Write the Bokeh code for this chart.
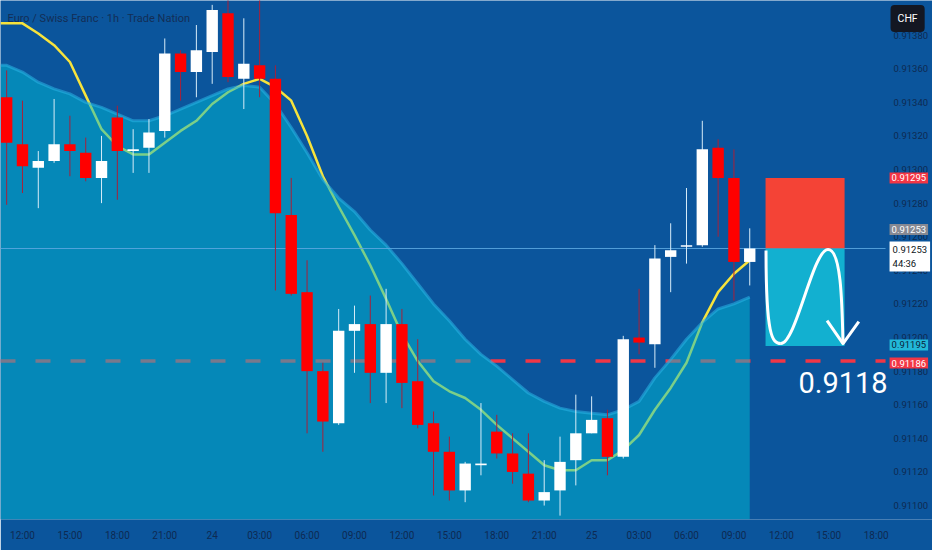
from bokeh.plotting import figure
from bokeh.models import Range1d, FixedTicker, PrintfTickFormatter, Label, ColumnDataSource
from bokeh.core.properties import value
from bokeh.embed import file_html
from bokeh.resources import INLINE

title_text = "Euro / Swiss Franc · 1h · Trade Nation"

# hour index: 0 = 12:00 on the 23rd
hours = list(range(-1, 47))
opens = [0.91343, 0.91315, 0.91301, 0.91305, 0.91315, 0.91310, 0.91295, 0.91331, 0.91311, 0.91313,
         0.91323, 0.91369, 0.91358, 0.91370, 0.91393, 0.91354, 0.91362, 0.91354, 0.91273, 0.91227,
         0.91180, 0.91149, 0.91204, 0.91208, 0.91179, 0.91208, 0.91174, 0.91149, 0.91132, 0.91109,
         0.91124, 0.91144, 0.91131, 0.91119, 0.91103, 0.91109, 0.91127, 0.91143, 0.91152, 0.91129,
         0.91200, 0.91196, 0.91248, 0.91254, 0.91255, 0.91313, 0.91295, 0.91245]
highs = [0.91359, 0.91341, 0.91311, 0.91342, 0.91332, 0.91319, 0.91320, 0.91338, 0.91324, 0.91330,
         0.91378, 0.91371, 0.91386, 0.91398, 0.91405, 0.91390, 0.91405, 0.91362, 0.91295, 0.91246,
         0.91185, 0.91217, 0.91219, 0.91225, 0.91229, 0.91217, 0.91199, 0.91156, 0.91141, 0.91126,
         0.91161, 0.91154, 0.91143, 0.91143, 0.91127, 0.91141, 0.91166, 0.91165, 0.91157, 0.91201,
         0.91229, 0.91255, 0.91268, 0.91289, 0.91329, 0.91318, 0.91312, 0.91265]
lows = [0.91279, 0.91286, 0.91277, 0.91304, 0.91296, 0.91293, 0.91280, 0.91282, 0.91298, 0.91298,
        0.91319, 0.91341, 0.91343, 0.91351, 0.91352, 0.91336, 0.91343, 0.91228, 0.91225, 0.91143,
        0.91132, 0.91148, 0.91179, 0.91161, 0.91161, 0.91158, 0.91146, 0.91106, 0.91103, 0.91102,
        0.91118, 0.91128, 0.91113, 0.91102, 0.91100, 0.91094, 0.91112, 0.91143, 0.91118, 0.91128,
        0.91190, 0.91182, 0.91227, 0.91244, 0.91254, 0.91260, 0.91222, 0.91231]
closes = [0.91316, 0.91302, 0.91305, 0.91315, 0.91311, 0.91295, 0.91305, 0.91311, 0.91312, 0.91322,
          0.91369, 0.91358, 0.91371, 0.91395, 0.91355, 0.91363, 0.91354, 0.91274, 0.91226, 0.91180,
          0.91150, 0.91204, 0.91208, 0.91179, 0.91208, 0.91173, 0.91148, 0.91132, 0.91109, 0.91125,
          0.91125, 0.91131, 0.91120, 0.91103, 0.91108, 0.91126, 0.91143, 0.91151, 0.91129, 0.91199,
          0.91197, 0.91247, 0.91252, 0.91255, 0.91312, 0.91295, 0.91245, 0.91253]
ma_line = [0.91387, 0.91387, 0.91381, 0.91374, 0.91364, 0.91344, 0.91324, 0.91314, 0.91309, 0.91309,
           0.91316, 0.91323, 0.91329, 0.91339, 0.91346, 0.91351, 0.91354, 0.91349, 0.91341, 0.91320,
           0.91296, 0.91278, 0.91261, 0.91243, 0.91223, 0.91202, 0.91186, 0.91174, 0.91168, 0.91164,
           0.91157, 0.91148, 0.91140, 0.91132, 0.91124, 0.91121, 0.91121, 0.91127, 0.91127, 0.91133,
           0.91142, 0.91157, 0.91170, 0.91185, 0.91209, 0.91227, 0.91238, 0.91246]
band_top = [0.91362, 0.91358, 0.91352, 0.91348, 0.91345, 0.91340, 0.91337, 0.91333, 0.91329, 0.91329,
            0.91332, 0.91336, 0.91340, 0.91344, 0.91348, 0.91350, 0.91349, 0.91339, 0.91325, 0.91310,
            0.91294, 0.91283, 0.91275, 0.91264, 0.91255, 0.91244, 0.91232, 0.91220, 0.91210, 0.91199,
            0.91190, 0.91183, 0.91175, 0.91167, 0.91162, 0.91158, 0.91156, 0.91155, 0.91154, 0.91157,
            0.91162, 0.91176, 0.91187, 0.91199, 0.91209, 0.91217, 0.91220, 0.91224]

tick_hours = [0, 3, 6, 9, 12, 15, 18, 21, 24, 27, 30, 33, 36, 39, 42, 45, 48, 51, 54]
tick_labels = ["12:00", "15:00", "18:00", "21:00", "24", "03:00", "06:00", "09:00", "12:00", "15:00",
               "18:00", "21:00", "25", "03:00", "06:00", "09:00", "12:00", "15:00", "18:00"]
price_ticks = [0.91100, 0.91120, 0.91140, 0.91160, 0.91180, 0.91200, 0.91220, 0.91240,
               0.91260, 0.91280, 0.91300, 0.91320, 0.91340, 0.91360, 0.91380]

# trade idea
entry_price = 0.91253
stop_price = 0.91295
target_price = 0.91195
level_price = 0.91186
trade_start, trade_end = 47, 52
target_text = "0.9118"
countdown = "44:36"
currency = "CHF"

# projected path (cubic bezier segments) and arrow head
seg_x0 = [47.03, 47.97, 50.95]
seg_y0 = [0.912518, 0.911964, 0.912524]
seg_x1 = [47.97, 50.95, 51.90]
seg_y1 = [0.911964, 0.912524, 0.911964]
seg_cx0 = [47.03, 48.92, 51.77]
seg_cy0 = [0.912012, 0.911964, 0.912524]
seg_cx1 = [47.41, 50.00, 51.84]
seg_cy1 = [0.911964, 0.912524, 0.912220]
arrow_t = [50.89, 51.90, 52.90]
arrow_p = [0.912101, 0.911964, 0.912095]

BG = "#0b559c"
AXIS_TXT = "#0e2a52"
FONT = "Roboto"
X0, X1 = -1.39, 57.56      # full canvas width
AXIS_X = 54.59             # where the price scale begins
Y0, Y1 = 0.910917, 0.914006

p = figure(width=932, height=550, x_range=Range1d(X0, X1), y_range=Range1d(Y0, Y1),
           output_backend="svg", toolbar_location=None, y_axis_location="right",
           min_border_left=0, min_border_top=0, min_border_right=0, min_border_bottom=31,
           background_fill_color=BG, border_fill_color=BG, outline_line_color=None)
p.grid.visible = False

# axes
p.xaxis.ticker = FixedTicker(ticks=tick_hours)
p.xaxis.major_label_overrides = {h: l for h, l in zip(tick_hours, tick_labels)}
p.yaxis.ticker = FixedTicker(ticks=price_ticks)
p.yaxis.formatter = PrintfTickFormatter(format="%.5f")
p.yaxis.fixed_location = AXIS_X
for ax in (p.xaxis, p.yaxis):
    ax.axis_line_color = None
    ax.major_tick_line_color = None
    ax.minor_tick_line_color = None
    ax.major_tick_out = 0
    ax.major_tick_in = 0
    ax.minor_tick_out = 0
    ax.major_label_text_color = AXIS_TXT
    ax.major_label_text_font = FONT
    ax.major_label_text_font_size = "9.5px"
p.xaxis.major_label_text_font_size = "10px"
p.yaxis.major_label_standoff = 8
p.xaxis.major_label_standoff = 10

# moving average (below the translucent band)
p.line([X0] + hours, [ma_line[0]] + ma_line, line_color="#f7e33c", line_width=2.5)
# dashed level
p.line([X0, AXIS_X], [level_price, level_price], line_color="#f23645", line_width=3.5,
       line_dash="15 20")

# band area
p.varea(x=[X0] + hours, y1=Y0, y2=[band_top[0]] + band_top, fill_color="#00bcd4", fill_alpha=0.5)
p.line([X0] + hours, [band_top[0]] + band_top, line_color="#2ab4e6", line_width=3, line_alpha=0.55)

# current price line
p.line([X0, AXIS_X], [entry_price, entry_price], line_color="#5aa6e0", line_width=1, line_alpha=0.9)

# candles
up = [c >= o for o, c in zip(opens, closes)]
src = ColumnDataSource(dict(
    x=hours, h=highs, l=lows,
    top=[max(o, c) for o, c in zip(opens, closes)],
    bot=[min(o, c) for o, c in zip(opens, closes)],
    col=["#ffffff" if u else "#ff0000" for u in up],
    wick=["#d8ecf8" if u else "#a8203a" for u in up],
))
p.segment(x0="x", y0="h", x1="x", y1="l", line_color="wick", line_width=1, source=src)
p.vbar(x="x", width=0.72, top="top", bottom="bot", fill_color="col", line_color=None, source=src)

# trade boxes
p.quad(left=[trade_start], right=[trade_end], bottom=[entry_price], top=[stop_price],
       fill_color="#f44336", line_color=None)
p.quad(left=[trade_start], right=[trade_end], bottom=[target_price], top=[entry_price],
       fill_color="#12b0d0", line_color=None)
p.bezier(x0=seg_x0, y0=seg_y0, x1=seg_x1, y1=seg_y1, cx0=seg_cx0, cy0=seg_cy0,
         cx1=seg_cx1, cy1=seg_cy1, line_color="white", line_width=3)
p.line(arrow_t, arrow_p, line_color="white", line_width=3, line_join="round")
p.text(x=[51.9], y=[0.911667], text=[target_text], text_color="white", text_align="center",
       text_baseline="bottom", text_font=value(FONT), text_font_size="29px")

# title
p.add_layout(Label(x=X0, y=Y1, x_offset=7, y_offset=-18, text=title_text, text_font=FONT,
                   text_font_size="11px", text_color="#132e56", text_baseline="middle"))

# price-scale tags
def tag(price, text, bg, fg, dy=0):
    p.add_layout(Label(x=AXIS_X, y=price, x_offset=4, y_offset=dy, text=text, text_font=FONT,
                       text_font_size="9.5px", text_color=fg, text_baseline="middle",
                       background_fill_color=bg, padding=2))

tag(stop_price, "%.5f" % stop_price, "#f23645", "white")
tag(entry_price, "%.5f" % entry_price, "#868993", "white", dy=19)
p.add_layout(Label(x=AXIS_X, y=entry_price, x_offset=4, y_offset=-8,
                   text="%.5f\n%s" % (entry_price, countdown),
                   text_font=FONT, text_font_size="9.5px", text_color="#0d1520", text_baseline="middle",
                   background_fill_color="white", padding=3))
tag(target_price, "%.5f" % target_price, "#22b8d8", "#0b1e3a", dy=1)
tag(level_price, "%.5f" % level_price, "#f23645", "white", dy=-2)
p.add_layout(Label(x=AXIS_X, y=Y1, x_offset=5, y_offset=-18, text=currency, text_font=FONT,
                   text_font_size="10.5px", text_color="white", text_baseline="middle",
                   background_fill_color="#131722", padding=7, border_radius=4))

open("out.html", "w").write(file_html(p, INLINE))
